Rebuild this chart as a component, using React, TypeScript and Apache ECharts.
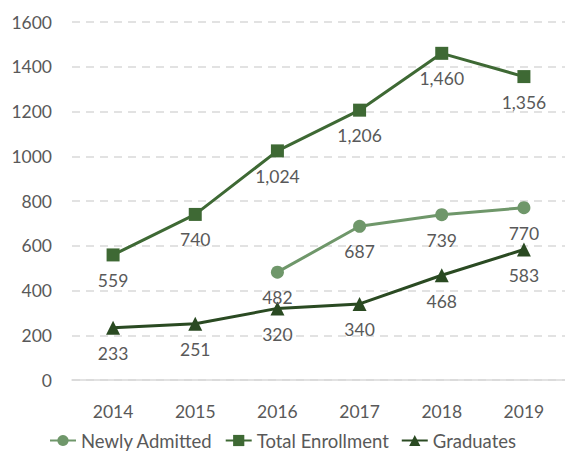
import React, { useEffect, useRef } from "react";
import * as echarts from "echarts";

const years = ["2014", "2015", "2016", "2017", "2018", "2019"];
const newlyAdmitted: (number | null)[] = [null, null, 482, 687, 739, 770];
const totalEnrollment = [559, 740, 1024, 1206, 1460, 1356];
const graduates = [233, 251, 320, 340, 468, 583];

const FONT = "Lato";
const TEXT = "#595959";
const FS = 17.5;

export default function App() {
  const ref = useRef<HTMLDivElement>(null);
  useEffect(() => {
    const chart = echarts.init(ref.current!, null, { renderer: "svg" });
    const label = {
      show: true,
      position: "bottom" as const,
      distance: 10,
      color: TEXT,
      fontSize: FS,
      fontFamily: FONT,
      formatter: (p: any) => (p.value == null ? "" : Number(p.value).toLocaleString("en-US")),
    };
    chart.setOption({
      animation: false,
      textStyle: { fontFamily: FONT },
      grid: { left: 72, top: 22, width: 500, height: 358, containLabel: false },
      legend: {
        bottom: -3,
        left: "center",
        itemWidth: 26,
        itemHeight: 14,
        itemGap: 12,
        textStyle: { color: TEXT, fontSize: 18.5, fontFamily: FONT },
        data: ["Newly Admitted", "Total Enrollment", "Graduates"],
      },
      xAxis: {
        type: "category",
        data: years,
        boundaryGap: true,
        axisLine: { lineStyle: { color: "#d9d9d9", width: 1.5 } },
        axisTick: { show: false },
        axisLabel: { color: TEXT, fontSize: FS, fontFamily: FONT, margin: 22 },
      },
      yAxis: {
        type: "value",
        min: 0,
        max: 1600,
        interval: 200,
        axisLine: { show: false },
        axisTick: { show: false },
        axisLabel: {
          color: TEXT,
          fontSize: FS,
          fontFamily: FONT,
          margin: 20,
          formatter: (v: number) => String(v),
        },
        splitLine: { lineStyle: { color: "#d9d9d9", type: [8, 6], width: 1.5 } },
      },
      series: [
        {
          name: "Newly Admitted",
          type: "line",
          data: newlyAdmitted,
          symbol: "circle",
          symbolSize: 13,
          color: "#6f976a",
          lineStyle: { width: 3 },
          label,
        },
        {
          name: "Total Enrollment",
          type: "line",
          data: totalEnrollment,
          symbol: "rect",
          symbolSize: 13,
          color: "#3e6934",
          lineStyle: { width: 3 },
          label,
        },
        {
          name: "Graduates",
          type: "line",
          data: graduates,
          symbol: "triangle",
          symbolSize: 14,
          color: "#2a4a22",
          lineStyle: { width: 3 },
          label,
        },
      ],
    });
    return () => chart.dispose();
  }, []);
  return (
    <div
      ref={ref}
      style={{ position: "fixed", left: 0, top: 0, width: 565, height: 452, background: "#fff" }}
    />
  );
}
